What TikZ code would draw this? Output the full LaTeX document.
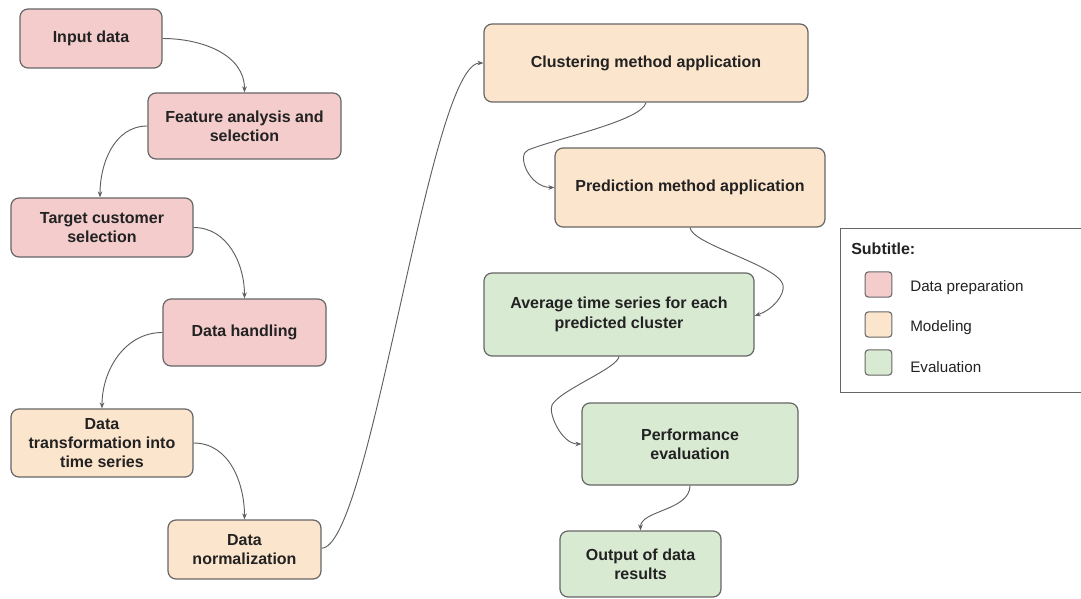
\documentclass[tikz,border=0pt]{standalone}
\usepackage{fontspec}
\setmainfont{Liberation Sans}
\usetikzlibrary{arrows.meta}
\definecolor{prepfill}{HTML}{F4CCCC}
\definecolor{modfill}{HTML}{FCE5CD}
\definecolor{evalfill}{HTML}{D9EAD3}
\definecolor{edge}{HTML}{666666}
\definecolor{ink}{HTML}{222222}
\definecolor{wire}{HTML}{5F5F5F}
\tikzset{
  stepbox/.style={draw=edge, line width=0.9pt, rounded corners=6pt, inner sep=0pt,
    align=center, text=ink, font=\fontsize{12}{14.5}\selectfont\bfseries},
  prep/.style={stepbox, fill=prepfill},
  mod/.style={stepbox, fill=modfill},
  ev/.style={stepbox, fill=evalfill},
  conn/.style={draw=wire, line width=0.7pt, -{Stealth[length=4.5pt,width=3.5pt]}},
  swatch/.style={draw=edge, line width=0.8pt, rounded corners=2.5pt, minimum width=20pt, minimum height=19pt, inner sep=0pt},
  legtext/.style={anchor=west, inner sep=0pt, text=ink, font=\fontsize{11.4}{13}\selectfont}
}
\begin{document}
\begin{tikzpicture}[x=0.75pt, y=-0.75pt]
\useasboundingbox (0,0) rectangle (1081,599);

% left column: data preparation and transformation
\node[prep, minimum width=106.5pt, minimum height=44.25pt] (id) at (91,38.5) {Input data};
\node[prep, minimum width=144.75pt, minimum height=49.5pt] (fa) at (244.5,126) {Feature analysis and\\selection};
\node[prep, minimum width=136.5pt, minimum height=44.25pt] (tc) at (102,227.5) {Target customer\\selection};
\node[prep, minimum width=122.25pt, minimum height=50.25pt] (dh) at (244.5,332.5) {Data handling};
\node[mod, minimum width=136.5pt, minimum height=51pt] (dt) at (102,443) {Data\\transformation into\\time series};
\node[mod, minimum width=114.75pt, minimum height=44.25pt] (dn) at (244.5,549.5) {Data\\normalization};

% right column: modeling and evaluation
\node[mod, minimum width=243pt, minimum height=58.5pt] (clu) at (646,63) {Clustering method application};
\node[mod, minimum width=202.5pt, minimum height=59.25pt] (pre) at (690,187.5) {Prediction method application};
\node[ev, minimum width=202.5pt, minimum height=62.25pt] (avg) at (619,314.5) {Average time series for each\\predicted cluster};
\node[ev, minimum width=162pt, minimum height=61.5pt] (perf) at (690,444) {Performance\\evaluation};
\node[ev, minimum width=120.75pt, minimum height=49.5pt] (res) at (640.5,564) {Output of data\\results};

% waypoints of the looping connectors
\coordinate (k1) at (528,150);
\coordinate (k2) at (783,285);
\coordinate (k3) at (552,405);

% connectors
\draw[conn] (id.east) to[out=0,in=90] (fa.north);
\draw[conn] (fa.west) to[out=180,in=90] ([xshift=-1.5pt]tc.north);
\draw[conn] (tc.east) to[out=0,in=90] (dh.north);
\draw[conn] (dh.west) to[out=180,in=90] (dt.north);
\draw[conn] (dt.east) to[out=0,in=90] (dn.north);
\draw[conn] ([yshift=1pt]dn.east) .. controls +(49,0) and +(-54,0) .. (clu.west);
\draw[conn] (clu.south) .. controls +(-4,18) and +(30,-12) .. (k1)
  .. controls +(-12,5) and +(-25,0) .. (pre.west);
\draw[conn] (pre.south) .. controls +(2,17) and +(-5,-20) .. (k2)
  .. controls +(2,10) and +(18,-6) .. ([yshift=-1pt]avg.east);
\draw[conn] (avg.south) .. controls +(-2,12) and +(8,-15) .. (k3)
  .. controls +(-4,8) and +(-20,0) .. (perf.west);
\draw[conn] (perf.south) .. controls +(0,25) and +(0,-20) .. (res.north);

% legend
\node[draw=edge, line width=0.8pt, minimum width=187.5pt, minimum height=123pt, inner sep=0pt, anchor=north west] (leg) at (840,228) {};
\node[anchor=west, inner sep=0pt, text=ink, font=\fontsize{12}{14}\selectfont\bfseries] (legtitle) at (851,249) {Subtitle:};
\node[swatch, fill=prepfill] (sw1) at (878.5,284.5) {};
\node[swatch, fill=modfill] (sw2) at (878.5,324.5) {};
\node[swatch, fill=evalfill] (sw3) at (878.5,362.5) {};
\node[legtext] (lt1) at (910,288) {Data preparation};
\node[legtext] (lt2) at (910,328) {Modeling};
\node[legtext] (lt3) at (910,367) {Evaluation};
\end{tikzpicture}
\end{document}
